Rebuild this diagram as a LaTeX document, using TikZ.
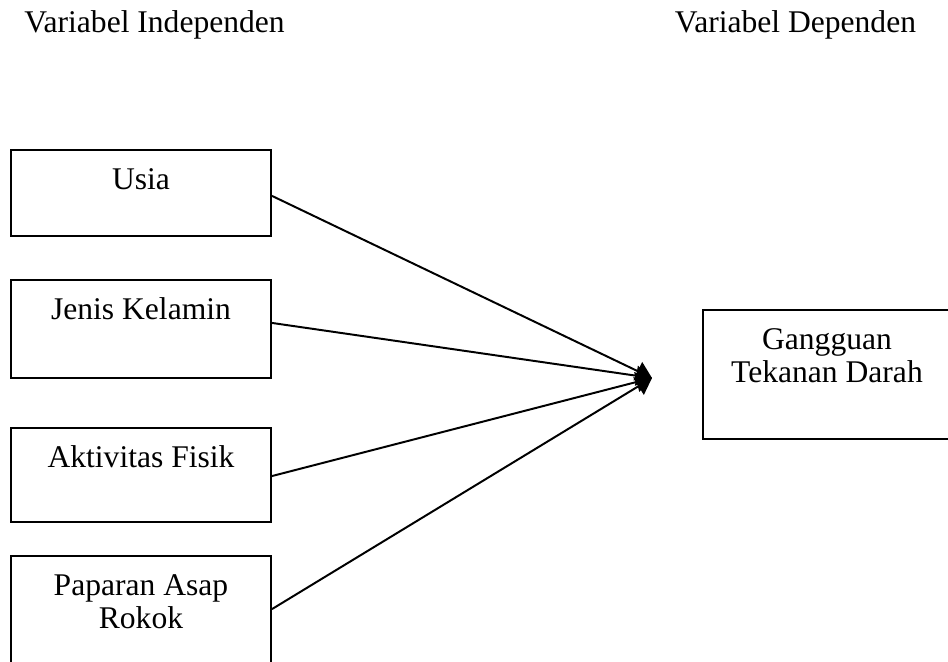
\documentclass[tikz,border=0pt]{standalone}
\usepackage{fontspec}
\setmainfont{Liberation Serif}
\usetikzlibrary{arrows.meta}

\begin{document}
\begin{tikzpicture}[x=0.38pt, y=-0.38pt,
  varbox/.style={draw, line width=0.75pt, rectangle, inner sep=0pt},
  lbl/.style={font=\fontsize{12}{12.54}\selectfont, align=center, inner sep=0pt, anchor=base},
  link/.style={line width=0.75pt, -{Triangle[length=6pt, width=7.6pt]}}]
  \useasboundingbox (0,0) rectangle (948,662);

  % judul kolom
  \node[lbl] (judulind) at (154.5,33) {Variabel Independen};
  \node[lbl] (juduldep) at (795.5,33) {Variabel Dependen};

  % variabel independen
  \node[varbox, minimum width=98.8pt, minimum height=32.68pt] (usia) at (141,193) {};
  \node[varbox, minimum width=98.8pt, minimum height=37.24pt] (jk) at (141,329) {};
  \node[varbox, minimum width=98.8pt, minimum height=35.72pt] (fisik) at (141,475) {};
  \node[varbox, minimum width=98.8pt, minimum height=42.56pt] (rokok) at (141,612) {};

  % variabel dependen
  \node[varbox, minimum width=94.24pt, minimum height=49.02pt] (darah) at (827,374.5) {};

  \node[lbl] (usiatxt) at ([yshift=-15.2pt]usia.north) {Usia};
  \node[lbl] (jktxt) at ([yshift=-15.2pt]jk.north) {Jenis Kelamin};
  \node[lbl] (fisiktxt) at ([yshift=-15.2pt]fisik.north) {Aktivitas Fisik};
  % dua baris: base ada di baris terakhir
  \node[lbl] (rokoktxt) at ([yshift=-27.74pt]rokok.north) {Paparan Asap\\Rokok};
  \node[lbl] (darahtxt) at ([yshift=-27.74pt]darah.north) {Gangguan\\Tekanan Darah};

  % panah
  \coordinate (ujung) at (652,378);
  \draw[link] ([yshift=-1.1pt]usia.east) -- (ujung);
  \draw[link] ([yshift=2.3pt]jk.east) -- (ujung);
  \draw[link] ([yshift=-0.4pt]fisik.east) -- (ujung);
  \draw[link] ([yshift=1.1pt]rokok.east) -- (ujung);
\end{tikzpicture}
\end{document}
